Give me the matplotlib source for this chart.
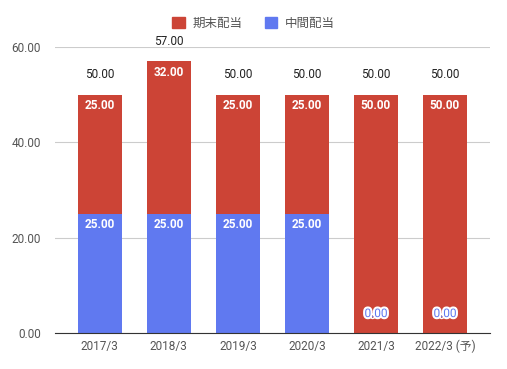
import numpy as np
import matplotlib.pyplot as plt
import matplotlib.patheffects as pe
from matplotlib.patches import Patch

plt.rcParams['font.family'] = ['Roboto', 'Noto Sans CJK JP', 'DejaVu Sans']

categories = ["2017/3", "2018/3", "2019/3", "2020/3", "2021/3", "2022/3 (予)"]
interim = [25.0, 25.0, 25.0, 25.0, 0.0, 0.0]     # 中間配当
year_end = [25.0, 32.0, 25.0, 25.0, 50.0, 50.0]  # 期末配当

RED = "#cc4436"
BLUE = "#6079f0"
GREY = "#555555"


def main() -> None:
    fig = plt.figure(figsize=(5.07, 3.69), dpi=100)
    ax = fig.add_axes([0.1085, 0.0976, 0.8575, 0.775])

    x = np.arange(len(categories))
    bottom = np.array(interim)
    top = np.array(year_end)
    total = bottom + top
    w = 0.64

    ax.bar(x, bottom, w, color=BLUE, zorder=2)
    ax.bar(x, top, w, bottom=bottom, color=RED, zorder=2)

    for xi, b, t, s in zip(x, bottom, top, total):
        # 中間配当ラベル
        if b > 0:
            ax.annotate(f"{b:.2f}", (xi, b), xytext=(0, -8), textcoords="offset points",
                        ha="center", va="center", color="white", fontsize=8.5,
                        fontweight="bold", zorder=3)
        else:
            ax.annotate(f"{b:.2f}", (xi, 0), xytext=(0, 14), textcoords="offset points",
                        ha="center", va="center", color=BLUE, fontsize=8.5,
                        zorder=3,
                        path_effects=[pe.withStroke(linewidth=3, foreground="white")])
        # 期末配当ラベル
        ax.annotate(f"{t:.2f}", (xi, s), xytext=(0, -8), textcoords="offset points",
                    ha="center", va="center", color="white", fontsize=8.5,
                    fontweight="bold", zorder=3)
        # 合計ラベル
        ax.annotate(f"{s:.2f}", (xi, s), xytext=(0, 14.5), textcoords="offset points",
                    ha="center", va="center", color="#222222", fontsize=8.5,
                    zorder=3, annotation_clip=False)

    ax.set_xlim(-0.65, len(categories) - 0.35)
    ax.set_ylim(0, 60)
    ax.set_yticks([0, 20, 40, 60])
    ax.set_yticklabels([f"{v:.2f}" for v in [0, 20, 40, 60]])
    ax.set_xticks(x)
    ax.set_xticklabels(categories)
    ax.tick_params(axis="both", length=0, labelsize=8.5, labelcolor=GREY)
    ax.tick_params(axis="y", pad=10)
    ax.tick_params(axis="x", pad=5)
    ax.grid(axis="y", color="#cccccc", linewidth=0.8, zorder=0)
    for side in ["left", "right", "top"]:
        ax.spines[side].set_visible(False)
    ax.spines["bottom"].set_color("#333333")
    ax.spines["bottom"].set_zorder(4)

    handles = [Patch(color=RED, label="期末配当"), Patch(color=BLUE, label="中間配当")]
    fig.legend(handles=handles, loc="center", bbox_to_anchor=(0.5, 0.937), ncol=2,
               frameon=False, fontsize=9, handlelength=1.0, handleheight=1.0,
               columnspacing=1.8, handletextpad=0.6, labelcolor=GREY)

    fig.savefig("out.png", dpi=100)


if __name__ == "__main__":
    main()
